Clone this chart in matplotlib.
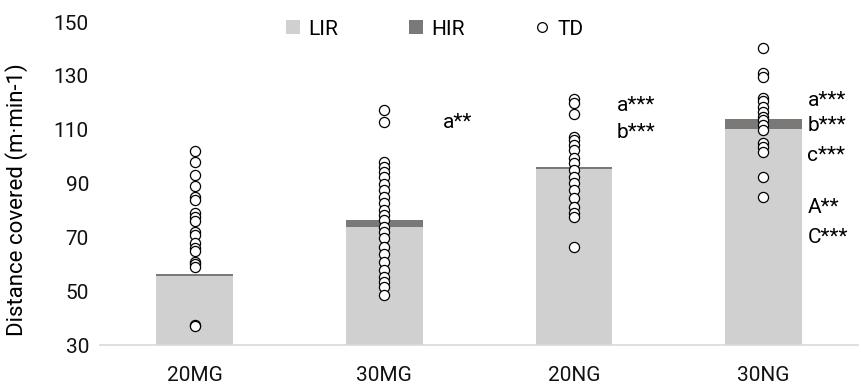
import numpy as np
import matplotlib
matplotlib.use("Agg")
import matplotlib.pyplot as plt
from matplotlib.patches import Patch
from matplotlib.lines import Line2D

plt.rcParams['font.family'] = ['Roboto', 'DejaVu Sans']

groups = ["20MG", "30MG", "20NG", "30NG"]
lir = [55.5, 74.0, 95.3, 110.3]
hir = [1.0, 2.5, 0.8, 3.7]

td_20mg = [102, 98, 93, 89, 85, 84, 79, 77.5, 76, 72, 71, 68, 66, 65, 61, 60, 59, 37.5, 37]
td_30mg = [117.5, 113, 98, 96.3, 94.4, 92.6, 90, 87.6, 85, 82.7, 80.2, 78.3, 76.5, 74, 72,
           69.7, 66.5, 64, 61, 58, 55.4, 53.5, 51.7, 48.6]
td_20ng = [121.5, 119.8, 116, 107.4, 106.2, 104.3, 102.5, 99.5, 97.7, 95, 92.6, 90.1, 87.6,
           84.5, 81.4, 79, 77.7, 66.5]
td_30ng = [140.3, 131, 129.7, 121.7, 120.5, 118.6, 116.7, 114.9, 113.6, 111.8, 109.9, 105,
           103.7, 101.9, 92.6, 85.1]
td_all = [td_20mg, td_30mg, td_20ng, td_30ng]

# significance labels: (group index, y value, text)
notes = [
    (1, 112.5, "a**"),
    (2, 119.0, "a***"),
    (2, 109.0, "b***"),
    (3, 120.7, "a***"),
    (3, 111.4, "b***"),
    (3, 100.6, "c***"),
    (3, 81.0, "A**"),
    (3, 70.0, "C***"),
]
note_dx = [0.31, 0.225, 0.225, 0.232, 0.232, 0.232, 0.232, 0.232]

c_lir = "#d0d0d0"
c_hir = "#7b7878"
fs = 15

fig = plt.figure(figsize=(8.61, 3.87), dpi=100)
ax = fig.add_axes([0.1162, 0.1085, 0.8806, 0.8345])

x = np.arange(len(groups))
ax.bar(x, lir, width=0.405, color=c_lir, zorder=1)
ax.bar(x, hir, width=0.405, bottom=lir, color=c_hir, zorder=1)

for i, vals in enumerate(td_all):
    ax.plot([x[i]] * len(vals), vals, linestyle="none", marker="o", markersize=7.3,
            markerfacecolor="white", markeredgecolor="black", markeredgewidth=0.9, zorder=3)

for (i, yv, txt), dx in zip(notes, note_dx):
    ax.text(x[i] + dx, yv, txt, fontsize=fs, va="center", ha="left", clip_on=False)

ax.set_xlim(-0.5, 3.5)
ax.set_ylim(30, 150)
ax.set_yticks(np.arange(30, 151, 20))
ax.set_xticks(x)
ax.set_xticklabels(groups)
ax.tick_params(axis="both", length=0, labelsize=fs, colors="#111111")
ax.tick_params(axis="y", pad=8)
ax.tick_params(axis="x", pad=15)
for s in ["top", "right", "left"]:
    ax.spines[s].set_visible(False)
ax.spines["bottom"].set_color("#d9d9d9")
ax.spines["bottom"].set_linewidth(1.2)
ax.set_ylabel("Distance covered (m·min-1)", fontsize=16, labelpad=6)
ax.yaxis.set_label_coords(-0.095, 0.45)

handles = [
    Patch(facecolor=c_lir, edgecolor="none", label="LIR"),
    Patch(facecolor=c_hir, edgecolor="none", label="HIR"),
    Line2D([], [], linestyle="none", marker="o", markersize=7, markerfacecolor="white",
           markeredgecolor="black", markeredgewidth=0.9, label="TD"),
]
fig.legend(handles=handles, loc="center", bbox_to_anchor=(0.505, 0.925), ncol=3,
           frameon=False, fontsize=fs, handlelength=0.65, handleheight=0.65,
           handletextpad=0.4, columnspacing=3.4)

fig.savefig("out.png", dpi=100)
